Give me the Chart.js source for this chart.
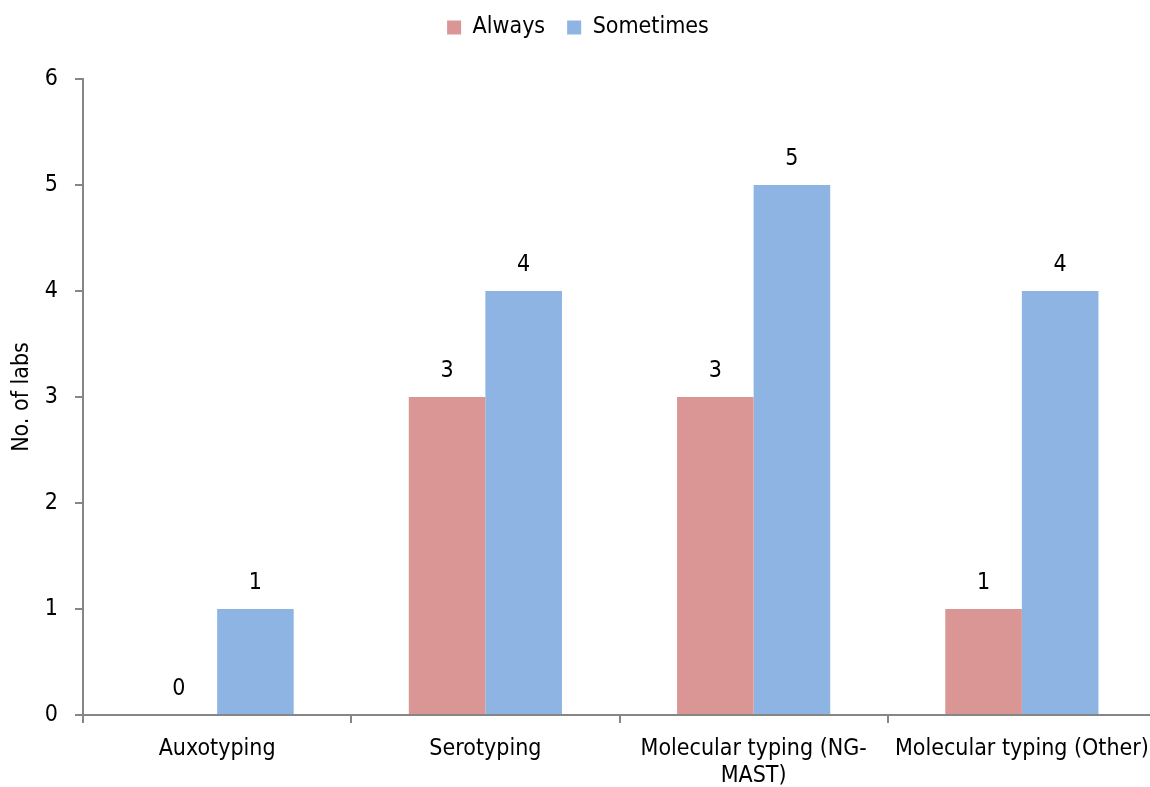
<!DOCTYPE html>
<html>
<head>
<meta charset="utf-8">
<script src="https://cdn.jsdelivr.net/npm/chart.js@4.4.1/dist/chart.umd.min.js"></script>
<style>
  html, body { margin: 0; padding: 0; background: #fff; overflow: hidden; }
  #wrap { width: 1156px; height: 787px; }
</style>
</head>
<body>
<div id="wrap"><canvas id="chart" width="1156" height="787"></canvas></div>
<script>
// Typing methods used by labs
const categories = ['Auxotyping', 'Serotyping', ['Molecular typing (NG-', 'MAST)'], 'Molecular typing (Other)'];
const alwaysValues = [0, 3, 3, 1];
const sometimesValues = [1, 4, 5, 4];
const yTicks = [0, 1, 2, 3, 4, 5, 6];

const FONT = '"DejaVu Sans Condensed", "DejaVu Sans", sans-serif';
const FONT_SIZE = 23;
const AXIS_COLOR = '#868686';

// Writes each bar's value just above its top
const valueLabels = {
  id: 'valueLabels',
  afterDatasetsDraw(chart) {
    const ctx = chart.ctx;
    ctx.save();
    ctx.font = FONT_SIZE + 'px ' + FONT;
    ctx.fillStyle = '#000';
    ctx.textAlign = 'center';
    ctx.textBaseline = 'middle';
    chart.data.datasets.forEach((ds, i) => {
      chart.getDatasetMeta(i).data.forEach((bar, j) => {
        ctx.fillText(String(ds.data[j]), bar.x, bar.y - 26);
      });
    });
    ctx.restore();
  }
};

new Chart(document.getElementById('chart'), {
  type: 'bar',
  data: {
    labels: categories,
    datasets: [
      { label: 'Always', data: alwaysValues, backgroundColor: '#D99694' },
      { label: 'Sometimes', data: sometimesValues, backgroundColor: '#8EB4E3' }
    ]
  },
  options: {
    responsive: false,
    animation: false,
    layout: { padding: { top: -6, left: 0, right: 0, bottom: 0 } },
    datasets: { bar: { categoryPercentage: 0.571, barPercentage: 1 } },
    plugins: {
      legend: {
        position: 'top',
        align: 'center',
        labels: {
          font: { family: FONT, size: FONT_SIZE },
          color: '#000',
          boxWidth: 14,
          boxHeight: 14,
          padding: 22
        }
      },
      // blank strip placed below the legend (lower weight than the legend) as spacing
      subtitle: {
        display: true,
        text: ' ',
        position: 'top',
        weight: 500,
        padding: 0,
        font: { family: FONT, size: 30, lineHeight: 1 }
      },
      tooltip: { enabled: false }
    },
    scales: {
      x: {
        grid: { drawOnChartArea: false, drawTicks: true, tickLength: 8, color: AXIS_COLOR, lineWidth: 2 },
        border: { color: AXIS_COLOR, width: 2 },
        ticks: { font: { family: FONT, size: FONT_SIZE }, color: '#000', padding: 12, maxRotation: 0, autoSkip: false },
        afterFit(scale) {
          scale.height = 72;
          // let the last label run to the canvas edge instead of shrinking the plot
          scale.paddingRight = 0;
        }
      },
      y: {
        min: 0,
        max: 6,
        afterBuildTicks(scale) { scale.ticks = yTicks.map(v => ({ value: v })); },
        grid: { drawOnChartArea: false, drawTicks: true, tickLength: 8, color: AXIS_COLOR, lineWidth: 2 },
        border: { color: AXIS_COLOR, width: 2 },
        ticks: { font: { family: FONT, size: FONT_SIZE }, color: '#000', padding: 17 },
        title: { display: true, text: 'No. of labs', font: { family: FONT, size: FONT_SIZE }, color: '#000', padding: { top: 8, bottom: 0 } },
        afterFit(scale) { scale.width = 83; }
      }
    }
  },
  plugins: [valueLabels]
});
</script>
</body>
</html>
